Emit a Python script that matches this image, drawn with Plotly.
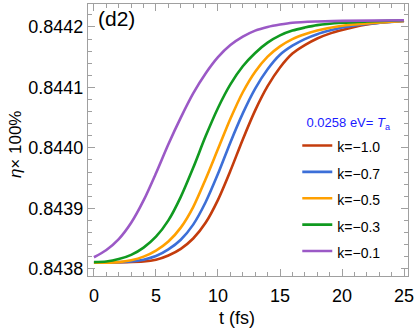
import plotly.graph_objects as go

# time samples (fs) and efficiency values (eta x 100%)
t_red    = [0, 4, 5, 6, 7, 8, 9, 10, 11, 12, 13, 14, 15, 16, 17, 18, 19, 20, 21, 22, 23, 25]
v_red    = [0.843810, 0.843812, 0.843815, 0.843822, 0.843833, 0.843850, 0.843876, 0.843914, 0.843962,
            0.844014, 0.844062, 0.844102, 0.844133, 0.844156, 0.844170, 0.844181, 0.844189, 0.844195,
            0.844200, 0.844204, 0.844207, 0.844210]

t_blue   = [0, 3, 4, 5, 6, 7, 8, 9, 10, 11, 12, 13, 14, 15, 16, 17, 18, 19, 20, 22, 25]
v_blue   = [0.843810, 0.843812, 0.843815, 0.843821, 0.843832, 0.843848, 0.843873, 0.843910, 0.843957,
            0.844009, 0.844057, 0.844098, 0.844130, 0.844154, 0.844169, 0.844180, 0.844188, 0.844194,
            0.844199, 0.844205, 0.844210]

t_orange = [0, 2, 3, 4, 5, 6, 7, 8, 9, 10, 11, 12, 13, 14, 15, 16, 17, 18, 20, 22, 25]
v_orange = [0.843810, 0.843811, 0.843814, 0.843820, 0.843830, 0.843845, 0.843868, 0.843902, 0.843948,
            0.843998, 0.844048, 0.844092, 0.844126, 0.844151, 0.844168, 0.844180, 0.844188, 0.844194,
            0.844202, 0.844206, 0.844210]

t_green  = [0, 1, 2, 3, 4, 5, 6, 7, 8, 9, 10, 11, 12, 13, 14, 15, 16, 17, 18, 20, 22, 25]
v_green  = [0.843811, 0.843812, 0.843816, 0.843823, 0.843835, 0.843853, 0.843880, 0.843919, 0.843967,
            0.844019, 0.844066, 0.844105, 0.844135, 0.844157, 0.844174, 0.844186, 0.844194, 0.844199,
            0.844203, 0.844207, 0.844209, 0.844211]

t_purple = [0, 1, 2, 3, 4, 5, 6, 7, 8, 9, 10, 11, 12, 13, 14, 15, 16, 18, 20, 25]
v_purple = [0.843819, 0.843831, 0.843849, 0.843876, 0.843913, 0.843958, 0.844006, 0.844050, 0.844090,
            0.844123, 0.844150, 0.844170, 0.844184, 0.844194, 0.844200, 0.844204, 0.844207, 0.844209,
            0.844210, 0.844211]

labels = ["k=\u22121.0", "k=\u22120.7", "k=\u22120.5", "k=\u22120.3", "k=\u22120.1"]
colors = ["#C43C0C", "#3C6FD8", "#FFA000", "#109A20", "#9B59C6"]
series = [(t_red, v_red), (t_blue, v_blue), (t_orange, v_orange), (t_green, v_green), (t_purple, v_purple)]

x_ticks = [0, 5, 10, 15, 20, 25]
y_ticks = [0.8438, 0.8439, 0.8440, 0.8441, 0.8442]

FONT = "Liberation Sans, Arial, sans-serif"

fig = go.Figure()
for (tx, vy), lab, col in zip(series, labels, colors):
    fig.add_trace(go.Scatter(
        x=tx, y=vy, mode="lines", name='<span style="font-size:14px">' + lab + "</span>",
        line=dict(color=col, width=2.6, shape="spline", smoothing=0.8),
    ))

axis_common = dict(
    showline=True, linecolor="#A0A0A0", linewidth=1, mirror="ticks",
    ticks="inside", tickcolor="#A0A0A0", ticklen=7, tickwidth=1,
    showgrid=False, zeroline=False, automargin=False,
    tickfont=dict(family=FONT, size=18, color="black"),
)

fig.update_layout(
    width=415, height=333,
    margin=dict(l=88, r=7, t=4, b=57),
    paper_bgcolor="white", plot_bgcolor="white",
    font=dict(family=FONT, color="black"),
    xaxis=dict(
        range=[-0.48, 25.32], tickvals=x_ticks, ticktext=[str(v) for v in x_ticks],
        minor=dict(ticks="inside", dtick=1, tick0=0, ticklen=4, tickcolor="#A0A0A0", showgrid=False),
        ticklabelstandoff=3,
        **axis_common,
    ),
    yaxis=dict(
        range=[0.843788, 0.844238], tickvals=y_ticks, ticktext=[f"{v:.4f}" for v in y_ticks],
        minor=dict(ticks="inside", dtick=0.00002, tick0=0.8438, ticklen=4, tickcolor="#A0A0A0", showgrid=False),
        **axis_common,
    ),
    legend=dict(
        x=0.654, y=0.609, xanchor="left", yanchor="top",
        bgcolor="rgba(0,0,0,0)", borderwidth=0,
        font=dict(family=FONT, size=18, color="black"),
        title=dict(text="\u00a0\u00a00.0258 eV= <i>T</i><sub>a</sub>",
                   font=dict(family=FONT, size=13, color="#1A1AFF")),
        itemwidth=30, tracegroupgap=0,
    ),
    annotations=[
        dict(x=0.025, y=0.995, xref="paper", yref="paper", xanchor="left", yanchor="top",
             text="(d2)", showarrow=False, font=dict(family=FONT, size=21, color="black")),
        dict(x=0.4656, y=-0.154, xref="paper", yref="paper", xanchor="center", yanchor="middle",
             text="t (fs)", showarrow=False, font=dict(family=FONT, size=18, color="black")),
        dict(x=-0.228, y=0.485, xref="paper", yref="paper", xanchor="center", yanchor="middle",
             textangle=-90, text="<i>\u03b7</i>\u00d7 100%", showarrow=False,
             font=dict(family=FONT, size=17, color="black")),
    ],
)

fig.write_html("out.html", config={"displayModeBar": False},
               post_script="document.body.style.margin='0';document.body.style.padding='0';")
